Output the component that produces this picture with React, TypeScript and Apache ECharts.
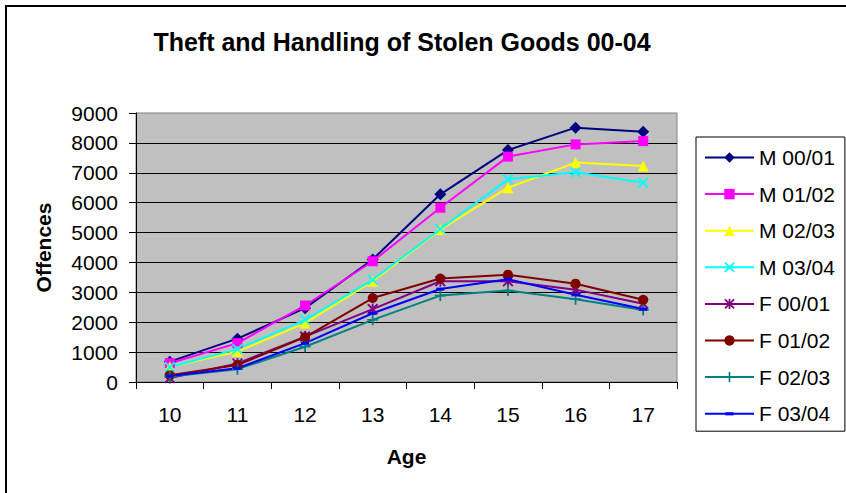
import React, { useEffect, useRef } from "react";
import * as echarts from "echarts";

const ages = ["10", "11", "12", "13", "14", "15", "16", "17"];
const seriesNames = ["M 00/01", "M 01/02", "M 02/03", "M 03/04", "F 00/01", "F 01/02", "F 02/03", "F 03/04"];
const m0001 = [680, 1450, 2470, 4100, 6280, 7760, 8510, 8370];
const m0102 = [630, 1300, 2560, 4040, 5830, 7540, 7950, 8060];
const m0203 = [510, 1020, 1970, 3370, 5100, 6500, 7340, 7230];
const m0304 = [500, 1100, 2080, 3420, 5120, 6780, 7020, 6670];
const f0001 = [130, 620, 1520, 2440, 3370, 3370, 3090, 2620];
const f0102 = [230, 570, 1500, 2810, 3460, 3590, 3290, 2750];
const f0203 = [180, 430, 1180, 2080, 2890, 3060, 2770, 2410];
const f0304 = [200, 460, 1300, 2300, 3110, 3440, 2920, 2440];
const yTicks = { min: 0, max: 9000, interval: 1000 };

const FONT = "Liberation Sans, Arial, sans-serif";

const X_PATH = "path://M0,1.2L1.2,0L10,8.8L8.8,10Z M1.2,10L0,8.8L8.8,0L10,1.2Z";
const PLUS_PATH = "path://M4.2,0H5.8V10H4.2Z M0,4.2H10V5.8H0Z";
const STAR_PATH = "path://M0,1.2L1.2,0L10,8.8L8.8,10Z M1.2,10L0,8.8L8.8,0L10,1.2Z M4.2,0H5.8V10H4.2Z";
const DASH_PATH = "path://M0,0M10,10M1,3.6H9V6.6H1Z";

const styles = [
  { color: "#000080", symbol: "diamond", size: 12 },
  { color: "#FF00FF", symbol: "rect", size: 10 },
  { color: "#FFFF00", symbol: "triangle", size: 11 },
  { color: "#00FFFF", symbol: X_PATH, size: 11 },
  { color: "#800080", symbol: STAR_PATH, size: 11 },
  { color: "#800000", symbol: "circle", size: 10 },
  { color: "#008080", symbol: PLUS_PATH, size: 11 },
  { color: "#0000FF", symbol: DASH_PATH, size: 10 },
];

const values = [m0001, m0102, m0203, m0304, f0001, f0102, f0203, f0304];

export default function App() {
  const ref = useRef<HTMLDivElement>(null);
  useEffect(() => {
    if (!ref.current) return;
    const chart = echarts.init(ref.current, null, { renderer: "svg" });
    chart.setOption({
      animation: false,
      backgroundColor: "#fff",
      title: {
        text: "Theft and Handling of Stolen Goods 00-04",
        left: 397,
        top: 24,
        textAlign: "center",
        textStyle: { fontSize: 25, fontWeight: "bold", fontFamily: FONT, color: "#000" },
      },
      graphic: [
        {
          type: "rect",
          silent: true,
          shape: { x: 6, y: 6, width: 900, height: 600 },
          style: { fill: "none", stroke: "#000", lineWidth: 2 },
        },
      ],
      legend: {
        orient: "vertical",
        left: 696,
        top: 137,
        padding: [10, 10, 7, 8],
        itemWidth: 49,
        itemHeight: 13,
        itemGap: 15.6,
        borderColor: "#000",
        borderWidth: 1,
        textStyle: { fontSize: 21, fontFamily: FONT, color: "#000" },
        data: seriesNames,
      },
      grid: {
        left: 136,
        top: 113,
        right: 169,
        bottom: 111,
        show: true,
        backgroundColor: "#C0C0C0",
        borderColor: "#808080",
        borderWidth: 1,
      },
      xAxis: {
        type: "category",
        data: ages,
        boundaryGap: true,
        name: "Age",
        nameLocation: "middle",
        nameGap: 64,
        nameTextStyle: { fontSize: 21, fontWeight: "bold", fontFamily: FONT, color: "#000" },
        axisLine: { lineStyle: { color: "#000", width: 1 } },
        axisTick: { show: true, length: 7, interval: 0, lineStyle: { color: "#000" } },
        axisLabel: { fontSize: 21, fontFamily: FONT, color: "#000", margin: 22, interval: 0 },
        splitLine: { show: false },
      },
      yAxis: {
        type: "value",
        min: yTicks.min,
        max: yTicks.max,
        interval: yTicks.interval,
        name: "Offences",
        nameLocation: "middle",
        nameGap: 82,
        nameTextStyle: { fontSize: 21, fontWeight: "bold", fontFamily: FONT, color: "#000" },
        axisLine: { show: true, lineStyle: { color: "#000", width: 1 } },
        axisTick: { show: true, length: 7, lineStyle: { color: "#000" } },
        axisLabel: {
          fontSize: 21,
          fontFamily: FONT,
          color: "#000",
          margin: 18,
          formatter: (v: number) => String(v),
        },
        splitLine: { show: true, showMaxLine: false, lineStyle: { color: "#000", width: 1 } },
      },
      series: seriesNames.map((name, i) => ({
        name,
        type: "line",
        data: values[i],
        symbol: styles[i].symbol,
        symbolSize: styles[i].size,
        showAllSymbol: true,
        color: styles[i].color,
        itemStyle: { color: styles[i].color },
        lineStyle: { color: styles[i].color, width: 2 },
        emphasis: { disabled: true },
      })),
    });
    return () => chart.dispose();
  }, []);
  return (
    <div
      ref={ref}
      style={{ position: "fixed", left: 0, top: 0, width: 846, height: 493, background: "#fff" }}
    />
  );
}
